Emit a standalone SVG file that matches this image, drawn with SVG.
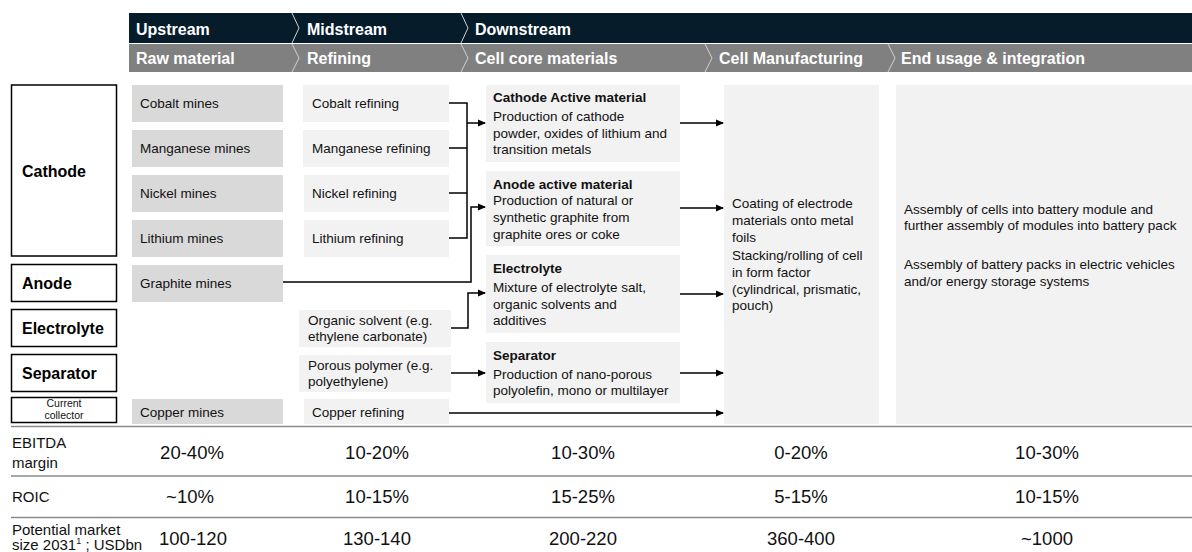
<svg xmlns="http://www.w3.org/2000/svg" width="1192" height="552" viewBox="0 0 1192 552">
<defs>
<marker id="ah" markerWidth="8" markerHeight="8" refX="7" refY="4" orient="auto" markerUnits="userSpaceOnUse">
<path d="M0,0.5 L8,4 L0,7.5 Z" fill="#000"/>
</marker>
<style>
text{font-family:"Liberation Sans",Arial,sans-serif;fill:#111;}
.hd{font-size:16px;font-weight:bold;fill:#fff;}
.lbl{font-size:16px;font-weight:bold;fill:#000;}
.t{font-size:13.5px;}
.tb{font-size:13.5px;font-weight:bold;}
.raw{fill:#d9d9d9;}
.lt{fill:#f2f2f2;}
.box{fill:#fff;stroke:#000;stroke-width:1.5;}
.chev{fill:none;stroke:#d0d0d0;stroke-width:1;}
.con{fill:none;stroke:#000;stroke-width:1.5;}
.rule{stroke:#8a8a8a;stroke-width:1.5;}
.rl{font-size:15px;}
.v{font-size:18.5px;text-anchor:middle;}
</style>
</defs>
<rect width="1192" height="552" fill="#fff"/>

<g id="header">
<rect x="129" y="13" width="1063" height="30" fill="#061c2b"/>
<rect x="129" y="44" width="1063" height="28" fill="#808080"/>
<path class="chev" d="M292,13 L299,28 L292,43"/>
<path class="chev" d="M461,13 L468,28 L461,43"/>
<path class="chev" d="M292,44 L299,58 L292,72"/>
<path class="chev" d="M461,44 L468,58 L461,72"/>
<path class="chev" d="M705,44 L712,58 L705,72"/>
<path class="chev" d="M888,44 L895,58 L888,72"/>
<text class="hd" x="136" y="35">Upstream</text>
<text class="hd" x="307" y="35">Midstream</text>
<text class="hd" x="475" y="35">Downstream</text>
<text class="hd" x="136" y="64">Raw material</text>
<text class="hd" x="307" y="64">Refining</text>
<text class="hd" x="475" y="64">Cell core materials</text>
<text class="hd" x="719" y="64">Cell Manufacturing</text>
<text class="hd" x="901" y="64">End usage &amp; integration</text>
</g>

<g id="left-labels">
<g id="lbl-cathode"><rect class="box" x="11.5" y="85" width="105" height="171"/><text class="lbl" x="22" y="177">Cathode</text></g>
<g id="lbl-anode"><rect class="box" x="11.5" y="264.5" width="105" height="37"/><text class="lbl" x="22" y="289">Anode</text></g>
<g id="lbl-electrolyte"><rect class="box" x="11.5" y="309.5" width="105" height="37"/><text class="lbl" x="22" y="334">Electrolyte</text></g>
<g id="lbl-separator"><rect class="box" x="11.5" y="354.5" width="105" height="37"/><text class="lbl" x="22" y="379">Separator</text></g>
<g id="lbl-collector"><rect class="box" x="11.5" y="397.5" width="105" height="25"/><text x="64" y="407" font-size="10.5" text-anchor="middle">Current</text><text x="64" y="419" font-size="10.5" text-anchor="middle">collector</text></g>
</g>

<g id="raw">
<g id="cobalt-mines"><rect class="raw" x="132" y="85" width="151" height="37"/><text class="t" x="140" y="108">Cobalt mines</text></g>
<g id="manganese-mines"><rect class="raw" x="132" y="130" width="151" height="37"/><text class="t" x="140" y="153">Manganese mines</text></g>
<g id="nickel-mines"><rect class="raw" x="132" y="175" width="151" height="37"/><text class="t" x="140" y="198">Nickel mines</text></g>
<g id="lithium-mines"><rect class="raw" x="132" y="220" width="151" height="37"/><text class="t" x="140" y="243">Lithium mines</text></g>
<g id="graphite-mines"><rect class="raw" x="132" y="265" width="151" height="37"/><text class="t" x="140" y="288">Graphite mines</text></g>
<g id="copper-mines"><rect class="raw" x="132" y="399" width="151" height="25"/><text class="t" x="140" y="417">Copper mines</text></g>
</g>

<g id="refining">
<g id="cobalt-ref"><rect class="lt" x="303" y="85" width="146" height="37"/><text class="t" x="312" y="108">Cobalt refining</text></g>
<g id="manganese-ref"><rect class="lt" x="303" y="130" width="146" height="37"/><text class="t" x="312" y="153">Manganese refining</text></g>
<g id="nickel-ref"><rect class="lt" x="304" y="175" width="145" height="37"/><text class="t" x="312" y="198">Nickel refining</text></g>
<g id="lithium-ref"><rect class="lt" x="304" y="220" width="145" height="37"/><text class="t" x="312" y="243">Lithium refining</text></g>
<g id="organic"><rect class="lt" x="299" y="310" width="152" height="37"/><text class="t" x="308" y="325">Organic solvent (e.g.</text><text class="t" x="308" y="341">ethylene carbonate)</text></g>
<g id="porous"><rect class="lt" x="299" y="355" width="152" height="37"/><text class="t" x="308" y="370">Porous polymer (e.g.</text><text class="t" x="308" y="386">polyethylene)</text></g>
<g id="copper-ref"><rect class="lt" x="304" y="399" width="145" height="25"/><text class="t" x="312" y="417">Copper refining</text></g>
</g>

<g id="cellcore">
<g id="cam"><rect class="lt" x="486" y="85" width="194" height="77"/>
<text class="tb" x="493" y="102">Cathode Active material</text>
<text class="t" x="493" y="121">Production of cathode</text>
<text class="t" x="493" y="138">powder, oxides of lithium and</text>
<text class="t" x="493" y="154">transition metals</text></g>
<g id="aam"><rect class="lt" x="486" y="171" width="194" height="75"/>
<text class="tb" x="493" y="189">Anode active material</text>
<text class="t" x="493" y="205">Production of natural or</text>
<text class="t" x="493" y="222">synthetic graphite from</text>
<text class="t" x="493" y="239">graphite ores or coke</text></g>
<g id="ely"><rect class="lt" x="486" y="255" width="194" height="78"/>
<text class="tb" x="493" y="273">Electrolyte</text>
<text class="t" x="493" y="292">Mixture of electrolyte salt,</text>
<text class="t" x="493" y="309">organic solvents and</text>
<text class="t" x="493" y="325">additives</text></g>
<g id="sep"><rect class="lt" x="486" y="342" width="194" height="61"/>
<text class="tb" x="493" y="360">Separator</text>
<text class="t" x="493" y="379">Production of nano-porous</text>
<text class="t" x="493" y="395">polyolefin, mono or multilayer</text></g>
</g>

<g id="cellmfg">
<rect class="lt" x="724" y="85" width="155" height="339"/>
<text class="t" x="732" y="208">Coating of electrode</text>
<text class="t" x="732" y="225">materials onto metal</text>
<text class="t" x="732" y="242">foils</text>
<text class="t" x="732" y="260">Stacking/rolling of cell</text>
<text class="t" x="732" y="277">in form factor</text>
<text class="t" x="732" y="294">(cylindrical, prismatic,</text>
<text class="t" x="732" y="310">pouch)</text>
</g>

<g id="enduse">
<rect class="lt" x="896" y="85" width="296" height="339"/>
<text class="t" x="904" y="214">Assembly of cells into battery module and</text>
<text class="t" x="904" y="230">further assembly of modules into battery pack</text>
<text class="t" x="904" y="269">Assembly of battery packs in electric vehicles</text>
<text class="t" x="904" y="286">and/or energy storage systems</text>
</g>

<g id="connectors">
<path class="con" d="M449,103 H467 M449,148 H467 M449,193 H467 M449,238 H467 M467,102.25 V238.75"/>
<path class="con" marker-end="url(#ah)" d="M467,123 H485"/>
<path class="con" marker-end="url(#ah)" d="M283,282 H471 V207 H485"/>
<path class="con" marker-end="url(#ah)" d="M451,328 H468 V293 H485"/>
<path class="con" marker-end="url(#ah)" d="M451,373 H485"/>
<path class="con" marker-end="url(#ah)" d="M449,413 H723"/>
<path class="con" marker-end="url(#ah)" d="M680,123 H723"/>
<path class="con" marker-end="url(#ah)" d="M680,208 H723"/>
<path class="con" marker-end="url(#ah)" d="M680,294 H723"/>
<path class="con" marker-end="url(#ah)" d="M680,373 H723"/>
</g>

<g id="table">
<line class="rule" x1="11" y1="426.5" x2="1192" y2="426.5"/>
<line class="rule" x1="11" y1="476" x2="1192" y2="476" stroke="#a8a8a8"/>
<line class="rule" x1="11" y1="517.5" x2="1192" y2="517.5"/>
<text class="rl" x="12" y="448">EBITDA</text>
<text class="rl" x="12" y="468">margin</text>
<text class="rl" x="12" y="502">ROIC</text>
<text class="rl" x="12" y="535">Potential market</text>
<text class="rl" x="12" y="550">size 2031<tspan font-size="9" dy="-6">1</tspan><tspan dy="6"> ; USDbn</tspan></text>
<text class="v" x="192" y="459">20-40%</text>
<text class="v" x="377" y="459">10-20%</text>
<text class="v" x="583" y="459">10-30%</text>
<text class="v" x="801" y="459">0-20%</text>
<text class="v" x="1047" y="459">10-30%</text>
<text class="v" x="190" y="503">~10%</text>
<text class="v" x="377" y="503">10-15%</text>
<text class="v" x="583" y="503">15-25%</text>
<text class="v" x="801" y="503">5-15%</text>
<text class="v" x="1047" y="503">10-15%</text>
<text class="v" x="193" y="545">100-120</text>
<text class="v" x="377" y="545">130-140</text>
<text class="v" x="583" y="545">200-220</text>
<text class="v" x="801" y="545">360-400</text>
<text class="v" x="1047" y="545">~1000</text>
</g>
</svg>
